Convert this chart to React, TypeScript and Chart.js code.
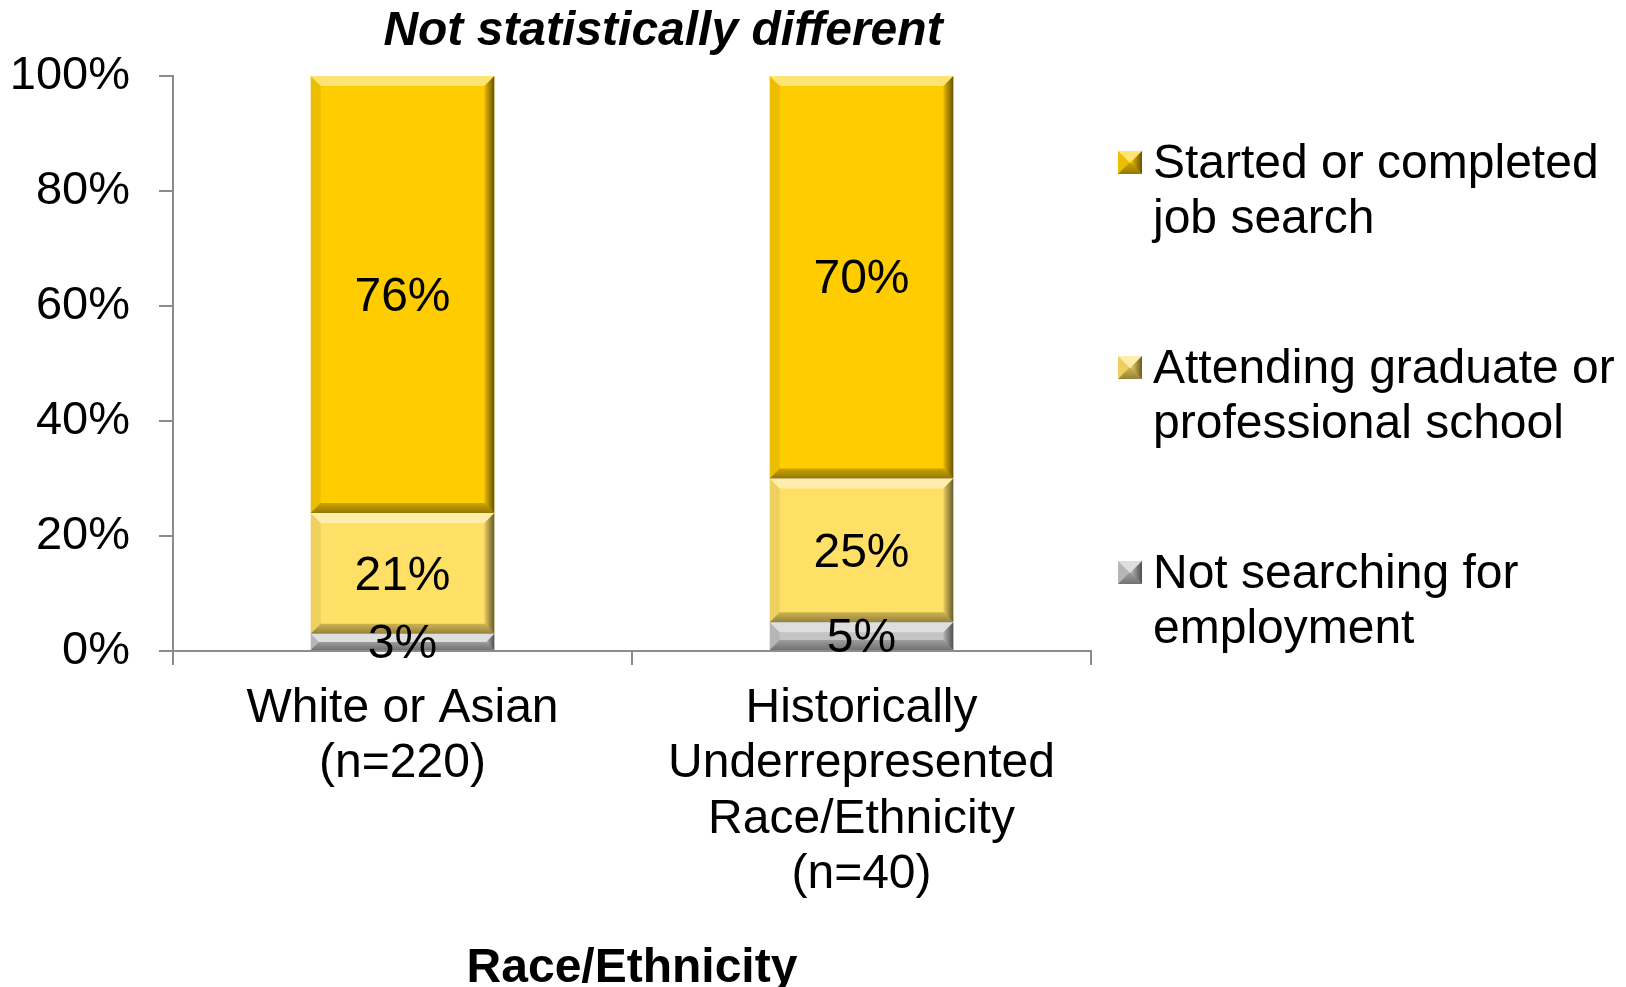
import React, { useEffect, useRef } from "react";
import { Chart, registerables } from "chart.js";

Chart.register(...registerables);

const FONT = "'Liberation Sans', Arial, Helvetica, sans-serif";

const categories: string[][] = [
  ["White or Asian", "(n=220)"],
  ["Historically", "Underrepresented", "Race/Ethnicity", "(n=40)"],
];
const notSearching: number[] = [3, 5];
const attendingGrad: number[] = [21, 25];
const jobSearch: number[] = [76, 70];
const seriesNames: string[][] = [
  ["Not searching for", "employment"],
  ["Attending graduate or", "professional school"],
  ["Started or completed", "job search"],
];
const seriesColors: string[] = ["#C4C4C4", "#FFE066", "#FFCC00"];
const yTicks: number[] = [0, 20, 40, 60, 80, 100];
const chartTitle = "Not statistically different";
const xAxisTitle = "Race/Ethnicity";

function drawBevel(ctx: CanvasRenderingContext2D, L: number, T: number, R: number, B: number, bMax: number) {
  const w = R - L;
  const h = B - T;
  const b = Math.max(0, Math.min(bMax, h / 2, w / 2));
  if (b <= 0) return;
  ctx.save();
  // top
  ctx.beginPath();
  ctx.moveTo(L, T); ctx.lineTo(R, T); ctx.lineTo(R - b, T + b); ctx.lineTo(L + b, T + b); ctx.closePath();
  ctx.fillStyle = "rgba(255,255,255,0.45)";
  ctx.fill();
  // bottom
  ctx.beginPath();
  ctx.moveTo(L, B); ctx.lineTo(R, B); ctx.lineTo(R - b, B - b); ctx.lineTo(L + b, B - b); ctx.closePath();
  const gb = ctx.createLinearGradient(0, B - b, 0, B);
  gb.addColorStop(0, "rgba(0,0,0,0.2)");
  gb.addColorStop(1, "rgba(0,0,0,0.42)");
  ctx.fillStyle = gb;
  ctx.fill();
  // left
  ctx.beginPath();
  ctx.moveTo(L, T); ctx.lineTo(L + b, T + b); ctx.lineTo(L + b, B - b); ctx.lineTo(L, B); ctx.closePath();
  ctx.fillStyle = "rgba(0,0,0,0.07)";
  ctx.fill();
  // right
  ctx.beginPath();
  ctx.moveTo(R, T); ctx.lineTo(R - b, T + b); ctx.lineTo(R - b, B - b); ctx.lineTo(R, B); ctx.closePath();
  const g = ctx.createLinearGradient(R - b, 0, R, 0);
  g.addColorStop(0, "rgba(0,0,0,0.08)");
  g.addColorStop(1, "rgba(0,0,0,0.6)");
  ctx.fillStyle = g;
  ctx.fill();
  ctx.restore();
}

const bevelPlugin = {
  id: "bevelAndLabels",
  afterDatasetsDraw(chart: any) {
    const ctx = chart.ctx as CanvasRenderingContext2D;
    chart.data.datasets.forEach((ds: any, di: number) => {
      const meta = chart.getDatasetMeta(di);
      meta.data.forEach((el: any) => {
        const { x, y, base, width } = el.getProps(["x", "y", "base", "width"], true);
        const T = Math.min(y, base);
        const B = Math.max(y, base);
        drawBevel(ctx, x - width / 2, T, x + width / 2, B, 10);
      });
    });
    ctx.save();
    ctx.font = `48px ${FONT}`;
    ctx.fillStyle = "#000";
    ctx.textAlign = "center";
    ctx.textBaseline = "middle";
    chart.data.datasets.forEach((ds: any, di: number) => {
      const meta = chart.getDatasetMeta(di);
      meta.data.forEach((el: any, i: number) => {
        const { x, y, base } = el.getProps(["x", "y", "base"], true);
        ctx.fillText(`${ds.data[i]}%`, x, (y + base) / 2 + 3);
      });
    });
    ctx.restore();
  },
  afterDraw(chart: any) {
    const ctx = chart.ctx as CanvasRenderingContext2D;
    const area = chart.chartArea;
    // title
    ctx.save();
    ctx.font = `italic bold 48px ${FONT}`;
    ctx.fillStyle = "#000";
    ctx.textAlign = "center";
    ctx.textBaseline = "alphabetic";
    ctx.fillText(chartTitle, (area.left + area.right) / 2 + 31, 45);
    ctx.restore();
    // legend
    ctx.save();
    const lx = area.right + 27;
    const n = chart.data.datasets.length;
    ctx.font = `48px ${FONT}`;
    ctx.textAlign = "left";
    ctx.textBaseline = "alphabetic";
    for (let k = 0; k < n; k++) {
      const di = n - 1 - k;
      const ds = chart.data.datasets[di];
      const baseY = 178 + k * 205;
      const bx = lx;
      const by = baseY - 27;
      const bs = 24;
      ctx.fillStyle = ds.backgroundColor;
      ctx.fillRect(bx, by, bs, 23);
      drawBevel(ctx, bx, by, bx + bs, by + 23, 11);
      ctx.fillStyle = "#000";
      const lines: string[] = ds.legendLines;
      lines.forEach((ln, li) => {
        ctx.fillText(ln, lx + 35, baseY + li * 55);
      });
    }
    ctx.restore();
  },
};

export default function App() {
  const ref = useRef<HTMLCanvasElement | null>(null);
  useEffect(() => {
    document.body.style.margin = "0";
    document.body.style.overflow = "hidden";
    if (!ref.current) return;
    Chart.defaults.font.family = FONT;
    const values = [notSearching, attendingGrad, jobSearch];
    const chart = new Chart(ref.current, {
      type: "bar",
      data: {
        labels: categories as any,
        datasets: values.map((v, i) => ({
          label: seriesNames[i].join(" "),
          legendLines: seriesNames[i],
          data: v,
          backgroundColor: seriesColors[i],
          borderWidth: 0,
          categoryPercentage: 1,
          barPercentage: 0.4,
        })) as any,
      },
      options: {
        animation: false,
        responsive: false,
        devicePixelRatio: 1,
        layout: { padding: { top: 76, right: 535, left: 0, bottom: 0 } },
        plugins: {
          legend: { display: false },
          title: { display: false },
          tooltip: { enabled: false },
        },
        scales: {
          x: {
            stacked: true,
            offset: true,
            grid: {
              display: true,
              offset: true,
              drawOnChartArea: false,
              drawTicks: true,
              tickLength: 14,
              color: "#8c8c8c",
              lineWidth: 2,
            },
            border: { display: true, color: "#8c8c8c", width: 2 },
            ticks: {
              color: "#000",
              padding: 16,
              maxRotation: 0,
              autoSkip: false,
              font: { size: 48, lineHeight: 1.156 },
            },
            title: {
              display: true,
              text: xAxisTitle,
              color: "#000",
              font: { size: 48, weight: "bold", lineHeight: 0.78 },
              padding: { top: 0, bottom: 0 },
            },
            afterFit(scale: any) {
              scale.height = 336;
            },
          },
          y: {
            stacked: true,
            min: 0,
            max: 100,
            afterBuildTicks(scale: any) {
              scale.ticks = yTicks.map((v) => ({ value: v }));
            },
            grid: {
              display: true,
              drawOnChartArea: false,
              drawTicks: true,
              tickLength: 14,
              color: "#8c8c8c",
              lineWidth: 2,
            },
            border: { display: true, color: "#8c8c8c", width: 2 },
            ticks: {
              color: "#000",
              padding: 29,
              font: { size: 47 },
              callback: (v: any) => `${v}%`,
            },
            afterFit(scale: any) {
              scale.width = 173;
            },
          },
        },
      },
      plugins: [bevelPlugin],
    } as any);
    return () => chart.destroy();
  }, []);
  return (
    <div style={{ width: 1626, height: 987, position: "relative", background: "#fff" }}>
      <canvas ref={ref} width={1626} height={987} style={{ width: 1626, height: 987, display: "block" }} />
    </div>
  );
}
